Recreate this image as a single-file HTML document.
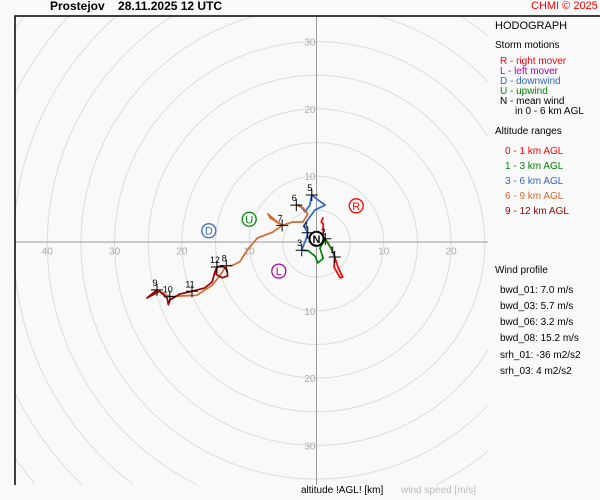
<!DOCTYPE html>
<html><head><meta charset="utf-8">
<style>
html,body{margin:0;padding:0;width:600px;height:500px;overflow:hidden;background:#f9f9f9;}
#wrap{position:relative;width:600px;height:500px;overflow:hidden;font-family:"Liberation Sans",sans-serif;background:#f9f9f9;}
.t{position:absolute;white-space:nowrap;font-size:10px;line-height:12px;}
</style></head><body>
<div id="wrap">
<svg id="chart" width="600" height="500" style="position:absolute;left:0;top:0;display:block"></svg>
<div class="t" style="left:50px;top:0px;font-size:12px;font-weight:bold">Prostejov&nbsp;&nbsp;&nbsp; 28.11.2025 12 UTC</div>
<div class="t" style="left:531px;top:0px;font-size:11px;color:#f00">CHMI © 2025</div>
<div class="t" style="left:495px;top:20px;font-size:11px;line-height:13px">HODOGRAPH</div>
<div class="t" style="left:495px;top:40px">Storm motions</div>
<div class="t" style="left:500px;top:56px;color:#f00">R - right mover</div>
<div class="t" style="left:500px;top:66px;color:#a0a">L - left mover</div>
<div class="t" style="left:500px;top:76px;color:#36c">D - downwind</div>
<div class="t" style="left:500px;top:86px;color:#080">U - upwind</div>
<div class="t" style="left:500px;top:96px">N - mean wind</div>
<div class="t" style="left:515px;top:106px">in 0 - 6 km AGL</div>
<div class="t" style="left:495px;top:126px">Altitude ranges</div>
<div class="t" style="left:505px;top:146px;color:#f00">0 - 1 km AGL</div>
<div class="t" style="left:505px;top:161px;color:#080">1 - 3 km AGL</div>
<div class="t" style="left:505px;top:176px;color:#36c">3 - 6 km AGL</div>
<div class="t" style="left:505px;top:191px;color:#d2692e">6 - 9 km AGL</div>
<div class="t" style="left:505px;top:206px;color:#900">9 - 12 km AGL</div>
<div class="t" style="left:495px;top:265px">Wind profile</div>
<div class="t" style="left:500px;top:285px">bwd_01: 7.0 m/s</div>
<div class="t" style="left:500px;top:301px">bwd_03: 5.7 m/s</div>
<div class="t" style="left:500px;top:317px">bwd_06: 3.2 m/s</div>
<div class="t" style="left:500px;top:333px">bwd_08: 15.2 m/s</div>
<div class="t" style="left:500px;top:350px">srh_01: -36 m2/s2</div>
<div class="t" style="left:500px;top:366px">srh_03: 4 m2/s2</div>
<div class="t" style="left:301px;top:485px">altitude !AGL! [km]</div>
<div class="t" style="left:401px;top:485px;color:#bbb">wind speed [m/s]</div>
</div>
<script>
const ringSpeeds=[5,10,15,20,25,30,35,40,45,50,55,60];
const tickLabels=[10,20,30,40];
const layerNames=["0-1km","1-3km","3-6km","6-9km","9-12km"];
const layerColors=["#f00","#080","#36c","#d2692e","#900"];
const uRed=[1.0,0.7,1.0,1.0,1.6,2.3,2.7,3.2,3.9,3.5,2.6,2.7];
const vRed=[3.9,3.2,2.9,1.0,0.2,-1.0,-2.0,-3.5,-5.0,-5.1,-3.5,-2.0];
const uGreen=[2.7,2.3,1.7,1.3,0.5,1.0,0.2,-0.2,-1.2,-2.2];
const vGreen=[-2.0,-1.0,0.1,0.7,-0.7,-2.2,-2.9,-1.9,-1.1,-1.0];
const uBlue=[-2.2,-1.6,-1.3,-1.9,-1.1,-0.2,1.3,0.2,-0.7,-1.0,-1.7,-2.5,-3.0];
const vBlue=[-1.0,0.5,1.6,2.6,3.8,5.0,5.7,6.5,7.2,5.7,4.7,5.7,5.7];
const uOrange=[-3.0,-2.0,-1.3,-2.0,-3.5,-5.1,-6.9,-7.2,-6.2,-5.1,-6.5,-8.8,-10.3,-11.4,-12.6,-13.4,-14.3,-15.5,-17.8,-20.3,-21.8,-22.8,-23.7];
const vOrange=[5.7,5.3,4.4,3.2,3.2,2.7,3.8,4.4,3.5,2.7,1.7,0.8,-1.0,-2.7,-3.3,-3.3,-4.7,-6.2,-7.7,-7.8,-7.9,-7.4,-6.9];
const uDark=[-23.7,-25.2,-23.3,-22.2,-22.0,-21.8,-20.3,-18.5,-16.6,-15.5,-15.1,-14.8,-14.0,-13.3,-13.2,-14.0,-14.9,-14.8];
const vDark=[-6.9,-8.1,-7.1,-8.1,-9.1,-8.4,-7.5,-7.1,-6.6,-5.7,-4.2,-3.5,-3.3,-3.9,-4.8,-5.1,-4.6,-3.5];
const kmLabels=["1","2","3","4","5","6","7","8","9","10","11","12"];
const kmU=[2.7,1.3,-2.2,-1.3,-0.7,-3.0,-5.1,-13.4,-23.7,-21.8,-18.5,-14.8];
const kmV=[-2.0,0.7,-1.0,1.6,7.2,5.7,2.7,-3.3,-6.9,-7.9,-7.1,-3.5];
const stormLabels=["R","L","D","U","N"];
const stormU=[5.9,-5.6,-16.0,-10.0,0.0];
const stormV=[5.6,-4.1,1.9,3.6,0.7];
const stormColors=["#f00","#a0a","#36c","#080","#000"];

const CX=316.5,CY=243.5,K=6.73;
const X0=15,X1=488,Y0=16,Y1=485;
const sx=u=>CX+u*K, sy=v=>CY-v*K;
const NS="http://www.w3.org/2000/svg";
const svg=document.getElementById('chart');
function mk(tag,attrs,parent){const e=document.createElementNS(NS,tag);for(const a in attrs)e.setAttribute(a,attrs[a]);(parent||svg).appendChild(e);return e;}
const g=mk('g',{});


ringSpeeds.forEach(s=>{
  const r=s*K;let d='',pen=false;
  for(let i=0;i<=1440;i++){
    const a=i/1440*2*Math.PI,x=CX+r*Math.cos(a),y=CY+r*Math.sin(a);
    const inside=x>=X0&&x<=X1&&y>=Y0&&y<=Y1;
    if(inside){d+=(pen?'L':'M')+x.toFixed(1)+','+y.toFixed(1);pen=true;}else pen=false;
  }
  if(!d)return;
  const c=mk('path',{d:d,fill:'none',stroke:'#dcdcdc','stroke-width':1},g);
  
  
});
const ax1=mk('line',{x1:X0,y1:242,x2:X1,y2:242,stroke:'#999','stroke-width':1},g);


const ax2=mk('line',{x1:316.5,y1:Y0,x2:316.5,y2:Y1,stroke:'#999','stroke-width':1},g);


tickLabels.forEach(t=>{
  const a=mk('text',{x:sx(-t),y:CY+11,'text-anchor':'middle','font-size':10,fill:'#aaa','font-family':'Liberation Sans, sans-serif'},g);
  a.textContent=t;
  
  
  if(sx(t)<X1-8){
    const b=mk('text',{x:sx(t),y:CY+11,'text-anchor':'middle','font-size':10,fill:'#aaa','font-family':'Liberation Sans, sans-serif'},g);
    b.textContent=t;
    
    
  }
  if(t<=30){
    const c=mk('text',{x:CX-1,y:sy(t)+4,'text-anchor':'end','font-size':10,fill:'#aaa','font-family':'Liberation Sans, sans-serif'},g);
    c.textContent=t;
    
    
    const d=mk('text',{x:CX-1,y:sy(-t)+4,'text-anchor':'end','font-size':10,fill:'#aaa','font-family':'Liberation Sans, sans-serif'},g);
    d.textContent=t;
    
    
  }
});
const layersU=[uRed,uGreen,uBlue,uOrange,uDark], layersV=[vRed,vGreen,vBlue,vOrange,vDark];
layersU.forEach((us,i)=>{
  const pts=us.map((u,j)=>sx(u).toFixed(1)+','+sy(layersV[i][j]).toFixed(1)).join(' ');
  const p=mk('polyline',{points:pts,fill:'none',stroke:layerColors[i],'stroke-width':1.7,'stroke-linejoin':'round'},g);
  
  
});
kmLabels.forEach((l,i)=>{
  const x=sx(kmU[i]),y=sy(kmV[i]);
  const m=mk('path',{d:`M${x-6},${y}H${x+6}M${x},${y-6}V${y+6}`,stroke:'#000','stroke-width':1},g);
  
  
  const t=mk('text',{x:x-2,y:y-4,'text-anchor':'middle','font-size':9,fill:'#000','font-family':'Liberation Sans, sans-serif'},g);
  t.textContent=l;
  
  
});
stormLabels.forEach((l,i)=>{
  const x=sx(stormU[i]),y=sy(stormV[i]);
  const c=mk('circle',{cx:x,cy:y,r:7,fill:'#fff',stroke:stormColors[i],'stroke-width':l==='N'?2:1.3},g);
  
  
  const t=mk('text',{x:x,y:y+4,'text-anchor':'middle','font-size':11,'font-weight':l==='N'?'bold':'normal',fill:stormColors[i],'font-family':'Liberation Sans, sans-serif'},g);
  t.textContent=l;
  
  
});
const fr=mk('path',{d:'M15,485V16H600',fill:'none',stroke:'#000','stroke-width':1.5});


</script>
</body></html>
